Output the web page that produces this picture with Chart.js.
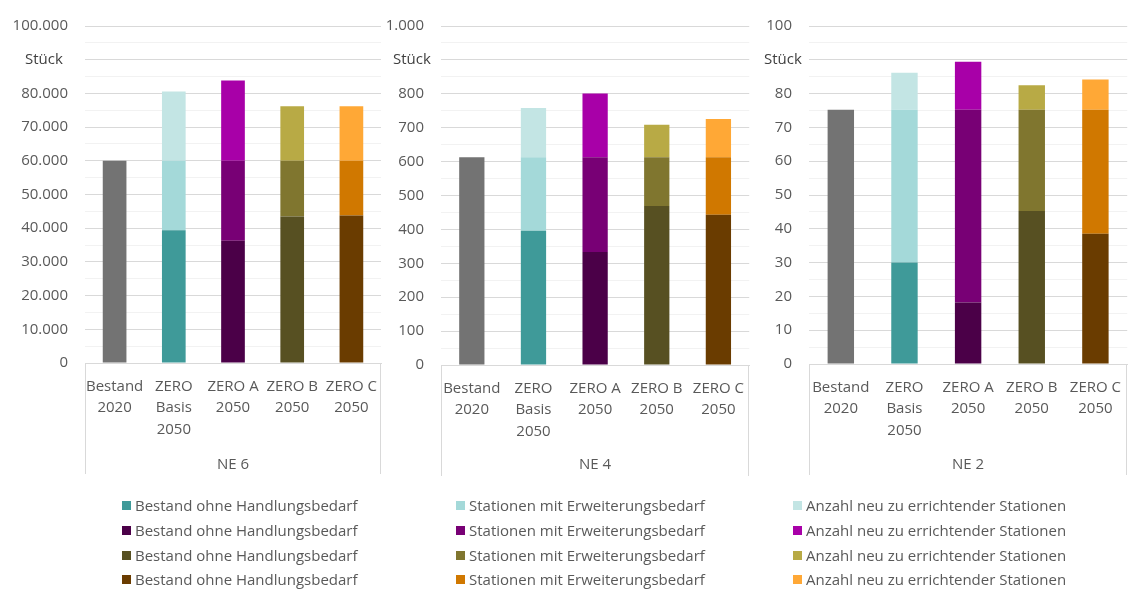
<!DOCTYPE html>
<html>
<head>
<meta charset="utf-8">
<script src="https://cdn.jsdelivr.net/npm/chart.js@4.4.1/dist/chart.umd.min.js"></script>
<style>
  html, body { margin: 0; padding: 0; background: #fff; overflow: hidden; }
  body { width: 1131px; height: 589px; position: relative; font-family: "Open Sans", sans-serif; }
  .panel { position: absolute; top: 0; height: 480px; background: #fff; }
  .panel canvas { display: block; }
  #legend { position: absolute; left: 0; top: 0; width: 1131px; height: 589px; pointer-events: none; }
  .li { position: absolute; display: flex; align-items: center; font-size: 15px; color: #595959; white-space: nowrap; height: 20px; }
  .li i { display: inline-block; width: 9px; height: 9px; margin-right: 4px; }
</style>
</head>
<body>
<div class="panel" id="p1" style="left:0px;width:390px;"><canvas id="c1" width="390" height="480"></canvas></div>
<div class="panel" id="p2" style="left:383px;width:374px;"><canvas id="c2" width="374" height="480"></canvas></div>
<div class="panel" id="p3" style="left:760px;width:374px;"><canvas id="c3" width="374" height="480"></canvas></div>
<div id="legend"></div>
<script>
// ---------- data ----------
const categories = [["Bestand", "2020"], ["ZERO", "Basis", "2050"], ["ZERO A", "2050"], ["ZERO B", "2050"], ["ZERO C", "2050"]];
const seriesNames = ["Bestand ohne Handlungsbedarf", "Stationen mit Erweiterungsbedarf", "Anzahl neu zu errichtender Stationen"];
const panelTitles = ["NE 6", "NE 4", "NE 2"];
const unitLabel = "Stück";

// NE 6
const ne6Bestand    = [60000, 39400, 36300, 43500, 43800];
const ne6Erweiterung = [null, 20600, 23700, 16500, 16200];
const ne6Neu        = [null, 20600, 23800, 16200, 16200];
const ne6Ticks = { max: 100000, step: 5000, major: 10000 };

// NE 4
const ne4Bestand    = [613, 396, 333, 469, 443];
const ne4Erweiterung = [null, 217, 280, 144, 170];
const ne4Neu        = [null, 145, 188, 96, 113];
const ne4Ticks = { max: 1000, step: 50, major: 100 };

// NE 2
const ne2Bestand    = [75.2, 30.0, 18.2, 45.3, 38.5];
const ne2Erweiterung = [null, 45.2, 57.0, 29.9, 36.7];
const ne2Neu        = [null, 11.0, 14.2, 7.3, 9.0];
const ne2Ticks = { max: 100, step: 5, major: 10 };

// ---------- colours (per category: Bestand 2020, Basis, A, B, C) ----------
const bottomColors = ["#737373", "#3f9a99", "#4b0048", "#575022", "#6a3c00"];
const midColors    = ["#737373", "#a4d9d9", "#780075", "#80762f", "#d07800"];
const topColors    = ["#737373", "#c3e5e4", "#a800a8", "#b8aa45", "#ffa836"];

const TEXT = "#595959";
const FONT = "'Open Sans', sans-serif";

function fmt(v) {
  return String(Math.round(v)).replace(/\B(?=(\d{3})+(?!\d))/g, ".");
}

const boxPlugin = {
  id: "box",
  afterDraw(chart, args, opts) {
    const ctx = chart.ctx, a = chart.chartArea;
    ctx.save();
    ctx.strokeStyle = "#d9d9d9";
    ctx.lineWidth = 1;
    ctx.beginPath();
    ctx.moveTo(Math.round(a.left) + 0.5, a.bottom);
    ctx.lineTo(Math.round(a.left) + 0.5, a.bottom + opts.depth);
    ctx.moveTo(Math.round(a.right) - 0.5, a.bottom);
    ctx.lineTo(Math.round(a.right) - 0.5, a.bottom + opts.depth);
    ctx.stroke();
    // unit label in place of the 90 % tick
    const y = chart.scales.y.getPixelForValue(opts.unitValue);
    ctx.fillStyle = "#404040";
    ctx.font = "15px " + FONT;
    ctx.textAlign = "left";
    ctx.textBaseline = "middle";
    ctx.fillText(unitLabel, opts.unitX, y);
    ctx.restore();
  }
};

function makeChart(id, title, bottom, mid, top, t, cfg) {
  new Chart(document.getElementById(id), {
    type: "bar",
    data: {
      labels: categories,
      datasets: [
        { label: seriesNames[0], data: bottom, backgroundColor: bottomColors },
        { label: seriesNames[1], data: mid, backgroundColor: midColors },
        { label: seriesNames[2], data: top, backgroundColor: topColors }
      ]
    },
    options: {
      responsive: false,
      animation: false,
      events: [],
      layout: { padding: { top: cfg.top, left: 0, right: 0, bottom: 0 } },
      datasets: { bar: { categoryPercentage: 1, barPercentage: cfg.barPct, borderWidth: 0 } },
      plugins: {
        legend: { display: false },
        tooltip: { enabled: false },
        box: { depth: 111, unitValue: t.max * 0.9, unitX: cfg.unitX }
      },
      scales: {
        x: {
          stacked: true,
          grid: { display: false, drawTicks: false },
          border: { display: true, color: "#d9d9d9" },
          ticks: { color: TEXT, font: { family: FONT, size: 15, lineHeight: 1.42 }, padding: 13, maxRotation: 0, autoSkip: false },
          title: { display: true, text: title, color: TEXT, font: { family: FONT, size: 15 }, padding: { top: 0, bottom: 6 } },
          afterFit(s) { s.height = cfg.xh; }
        },
        y: {
          stacked: true,
          min: 0,
          max: t.max,
          border: { display: false },
          grid: {
            drawTicks: false,
            color: (c) => (c.tick && Math.round(c.tick.value) % t.major === 0) ? "#d9d9d9" : "#f2f2f2"
          },
          ticks: {
            stepSize: t.step,
            autoSkip: false,
            padding: cfg.tickPad,
            color: TEXT,
            font: { family: FONT, size: 15 },
            callback: (v) => {
              if (Math.round(v) % t.major !== 0) return "";
              if (Math.abs(v - t.max * 0.9) < 1e-6) return "";
              return fmt(v);
            }
          },
          afterFit(s) { s.width = cfg.yw; }
        }
      }
    },
    plugins: [boxPlugin]
  });
}

makeChart("c1", panelTitles[0], ne6Bestand, ne6Erweiterung, ne6Neu, ne6Ticks,
  { top: 23, xh: 117, yw: 85, tickPad: 17, barPct: 0.4, unitX: 25 });
makeChart("c2", panelTitles[1], ne4Bestand, ne4Erweiterung, ne4Neu, ne4Ticks,
  { top: 17, xh: 115, yw: 58, tickPad: 17, barPct: 0.41, unitX: 10 });
makeChart("c3", panelTitles[2], ne2Bestand, ne2Erweiterung, ne2Neu, ne2Ticks,
  { top: 17, xh: 116, yw: 49, tickPad: 17, barPct: 0.415, unitX: 4 });

// ---------- legend (3 columns x 4 rows) ----------
const legendCols = [122, 456, 793];
const legendRows = [505, 530, 555, 579];
const rowColors = [1, 2, 3, 4];
const legend = document.getElementById("legend");
rowColors.forEach((ci, r) => {
  const cols = [bottomColors[ci], midColors[ci], topColors[ci]];
  cols.forEach((col, k) => {
    const d = document.createElement("div");
    d.className = "li";
    d.style.left = legendCols[k] + "px";
    d.style.top = (legendRows[r] - 10) + "px";
    const m = document.createElement("i");
    m.style.background = col;
    d.appendChild(m);
    d.appendChild(document.createTextNode(seriesNames[k]));
    legend.appendChild(d);
  });
});
</script>
</body>
</html>
